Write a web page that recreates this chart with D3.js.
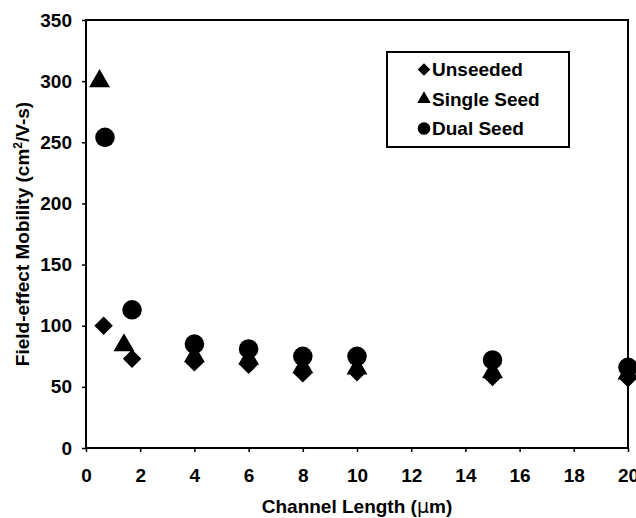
<!doctype html>
<html>
<head>
<meta charset="utf-8">
<title>Field-effect Mobility vs Channel Length</title>
<script src="https://d3js.org/d3.v7.min.js"></script>
<style>
  body { margin: 0; background: #fff; }
  svg text { font-family: "Liberation Sans", Arial, sans-serif; font-weight: bold; fill: #000; }
</style>
</head>
<body>
<div id="chart"></div>
<script>
// data
var unseededX = [0.65, 1.7, 4, 6, 8, 10, 15, 20];
var unseededY = [100, 73, 70, 68, 61, 62, 58, 57];
var singleX = [0.5, 1.4, 4, 6, 8, 10, 15, 20];
var singleY = [300, 84, 75, 73, 66, 65, 62, 61];
var dualX = [0.7, 1.7, 4, 6, 8, 10, 15, 20];
var dualY = [254, 113, 85, 81, 75, 75, 72, 66];
var xTicks = [0, 2, 4, 6, 8, 10, 12, 14, 16, 18, 20];
var yTicks = [0, 50, 100, 150, 200, 250, 300, 350];

var width = 636, height = 518;
var margin = {top: 20, right: 8, bottom: 70, left: 86};
var fontSize = "19px";

var svg = d3.select("#chart").append("svg")
    .attr("width", width)
    .attr("height", height);

var x = d3.scaleLinear().domain([0, 20]).range([margin.left, width - margin.right]);
var y = d3.scaleLinear().domain([0, 350]).range([height - margin.bottom, margin.top]);

// frame
svg.append("rect")
    .attr("x", x(0)).attr("y", y(350))
    .attr("width", x(20) - x(0)).attr("height", y(0) - y(350))
    .attr("fill", "none").attr("stroke", "#000").attr("stroke-width", 2);

var xAxis = svg.append("g")
    .attr("transform", "translate(0," + y(0) + ")")
    .call(d3.axisBottom(x).tickValues(xTicks).tickSize(4).tickPadding(17).tickFormat(d3.format("d")));
var yAxis = svg.append("g")
    .attr("transform", "translate(" + x(0) + ",0)")
    .call(d3.axisLeft(y).tickValues(yTicks).tickSize(4).tickPadding(10).tickFormat(d3.format("d")));

[xAxis, yAxis].forEach(function(g) {
    g.attr("font-size", null).attr("font-family", null);
    g.select(".domain").remove();
    g.selectAll("line").attr("stroke", "#000").attr("stroke-width", 1.5);
    g.selectAll("text").style("font-size", fontSize);
});

// axis titles
svg.append("text")
    .attr("x", (x(0) + x(20)) / 2)
    .attr("y", 513)
    .attr("text-anchor", "middle")
    .style("font-size", fontSize)
    .html("Channel Length (<tspan font-family='DejaVu Sans' font-weight='normal'>\u00b5</tspan>m)");

var yt = svg.append("text")
    .attr("transform", "translate(29," + ((y(0) + y(350)) / 2) + ") rotate(-90)")
    .attr("text-anchor", "middle")
    .style("font-size", fontSize);
yt.append("tspan").text("Field-effect Mobility (cm");
yt.append("tspan").attr("dy", -7).style("font-size", "12px").text("2");
yt.append("tspan").attr("dy", 7).text("/V-s)");

// series
var series = [
    {name: "Unseeded", xs: unseededX, ys: unseededY, shape: "diamond", size: 170, legendSize: 80},
    {name: "Single Seed", xs: singleX, ys: singleY, shape: "triangle", size: 190, legendSize: 80},
    {name: "Dual Seed", xs: dualX, ys: dualY, shape: "circle", size: 300, legendSize: 125}
];

function symbolType(shape) {
    if (shape === "diamond") return d3.symbolSquare;
    if (shape === "triangle") return d3.symbolTriangle;
    return d3.symbolCircle;
}

series.forEach(function(s) {
    var pts = s.xs.map(function(v, i) { return [v, s.ys[i]]; });
    svg.append("g").selectAll("path")
        .data(pts)
        .enter()
        .append("path")
        .attr("d", d3.symbol().type(symbolType(s.shape)).size(s.size))
        .attr("transform", function(d) {
            var t = "translate(" + x(d[0]) + "," + y(d[1]) + ")";
            return s.shape === "diamond" ? t + " rotate(45)" : t;
        })
        .attr("fill", "#000");
});

// legend
var lg = svg.append("g");
lg.append("rect")
    .attr("x", 387).attr("y", 52).attr("width", 182).attr("height", 95)
    .attr("fill", "#fff").attr("stroke", "#000").attr("stroke-width", 2);
series.forEach(function(s, i) {
    var cy = 69.5 + i * 29.5;
    lg.append("path")
        .attr("d", d3.symbol().type(symbolType(s.shape)).size(s.legendSize))
        .attr("transform", "translate(424," + cy + ")" + (s.shape === "diamond" ? " rotate(45)" : ""))
        .attr("fill", "#000");
    lg.append("text")
        .attr("x", 432).attr("y", cy + 6.5)
        .style("font-size", fontSize)
        .text(s.name);
});
</script>
</body>
</html>
